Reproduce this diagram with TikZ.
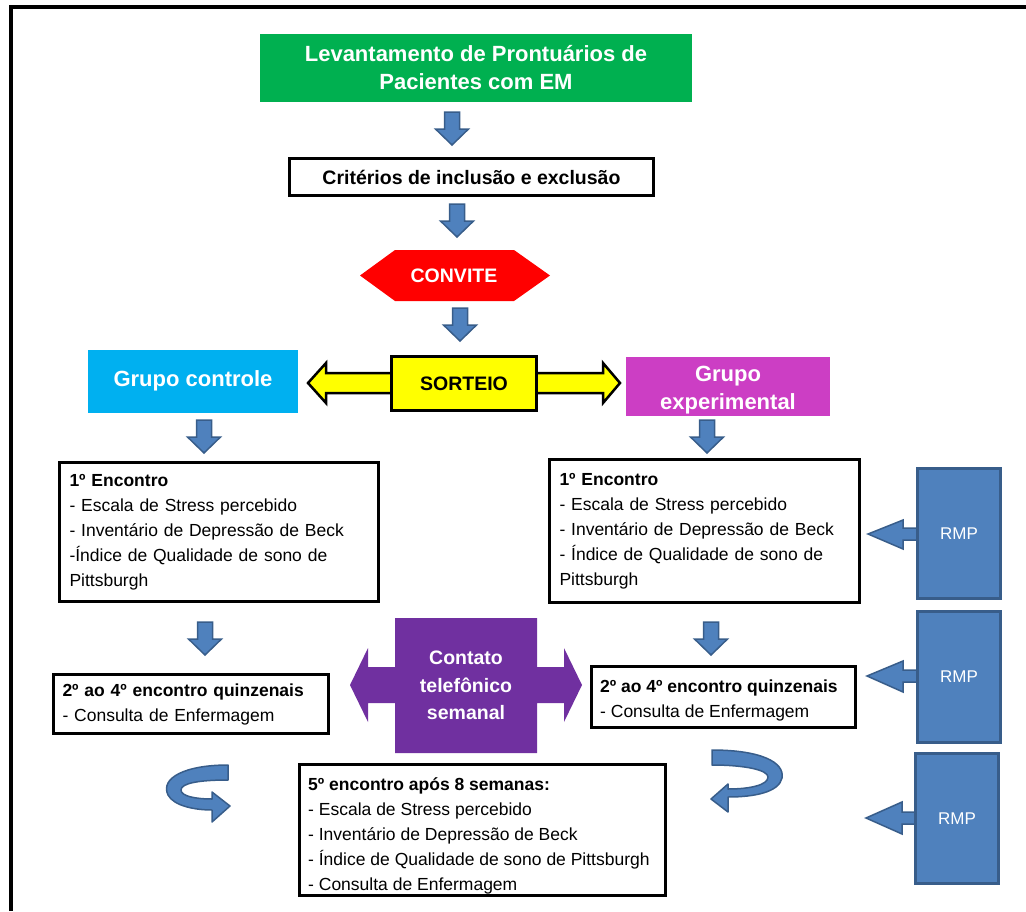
\documentclass[tikz,border=0pt]{standalone}
\usepackage{fontspec}
\setmainfont{Liberation Sans}
\definecolor{ggreen}{HTML}{00B050}
\definecolor{gcyan}{HTML}{00B0F0}
\definecolor{gmag}{RGB}{204,62,196}
\definecolor{gpurp}{HTML}{7030A0}
\definecolor{bfill}{HTML}{4F81BD}
\definecolor{bline}{HTML}{385D8A}
\definecolor{gyel}{HTML}{FFFF00}
\definecolor{gred}{HTML}{FF0000}
\begin{document}
\begin{tikzpicture}[x=1pt,y=-1pt,
  blk/.style={fill=bfill,draw=bline,line width=1.5pt,line join=miter},
  txtbox/.style={draw=black,line width=3pt,fill=white,align=left,inner xsep=10pt,inner ysep=0pt,font=\fontsize{17.5}{25}\selectfont},
  plainbox/.style={draw=black,line width=3pt,fill=white},
  bodytxt/.style={align=left,inner sep=0pt,font=\fontsize{17.5}{25}\selectfont},
  blkdown/.pic={\draw[blk] (-7.5,0) -- (7.5,0) -- (7.5,17) -- (16.5,17) -- (0,33) -- (-16.5,17) -- (-7.5,17) -- cycle;},
  rmpbox/.style={fill=bfill,draw=bline,line width=3pt,minimum width=83pt,text=white,font=\fontsize{17}{20}\selectfont},
]
\useasboundingbox (0,0) rectangle (1026,911);
% frame
\draw[line width=4pt] (11,911) -- (11,7) -- (1026,7);

% title
\node[fill=ggreen,minimum width=432pt,minimum height=68pt,text=white,align=center,
  font=\bfseries\fontsize{22}{28}\selectfont] (lev) at (476,68) {Levantamento de Prontuários de\\Pacientes com EM};
\pic at (452,112) {blkdown};

\node[draw=black,line width=3pt,minimum width=364pt,minimum height=37pt,font=\bfseries\fontsize{19.5}{22}\selectfont] (crit) at (471.5,177) {Critérios de inclusão e exclusão};
\pic at (457,204) {blkdown};

% convite
\fill[gred] (360,275.5) -- (395,250) -- (514,250) -- (550,275.5) -- (514,301) -- (395,301) -- cycle;
\node[text=white,font=\bfseries\fontsize{19.5}{22}\selectfont] (conv) at (454,276) {CONVITE};
\pic at (460,308) {blkdown};

% sorteio
\draw[fill=gyel,draw=black,line width=2.5pt,line join=miter]
  (308,383) -- (326,363) -- (326,373) -- (603,373) -- (603,363) -- (620,383) -- (603,403) -- (603,393) -- (326,393) -- (326,403) -- cycle;
\node[fill=gyel,draw=black,line width=3pt,minimum width=145pt,minimum height=54pt,font=\bfseries\fontsize{19.5}{22}\selectfont] (sort) at (464,383.5) {SORTEIO};

\node[fill=gcyan,minimum width=210pt,minimum height=63pt,text=white,font=\bfseries\fontsize{22}{26}\selectfont] (gc) at (193,381) {Grupo controle};
\node[fill=gmag,minimum width=204pt,minimum height=59pt] (ge) at (728,386) {};
\node[text=white,align=center,font=\bfseries\fontsize{22}{28}\selectfont] (get) at ([yshift=-4pt]ge.center) {Grupo\\experimental};

\pic at (204,420) {blkdown};
\pic at (707,420) {blkdown};

% first encounters
\node[txtbox,text width=299pt,minimum height=139pt] (l1) at (219,532) {\textbf{1º Encontro}\\- Escala de Stress percebido\\- Inventário de Depressão de Beck\\-Índice de Qualidade de sono de\\Pittsburgh};
\node[txtbox,inner xsep=10pt,text width=290pt,minimum height=143pt] (r1) at (704.5,531) {\textbf{1º Encontro}\\- Escala de Stress percebido\\- Inventário de Depressão de Beck\\- Índice de Qualidade de sono de\\Pittsburgh};

\pic at (205,622) {blkdown};
\pic at (711,622) {blkdown};

% purple callout
\fill[gpurp] (395,618) -- (537,618) -- (537,667) -- (564,667) -- (564,648) -- (582,685) -- (564,722) -- (564,703) -- (537,703) -- (537,753) -- (395,753) -- (395,703) -- (368,703) -- (368,722) -- (350,685) -- (368,648) -- (368,667) -- (395,667) -- cycle;
\node[text=white,align=center,font=\bfseries\fontsize{19.5}{27.5}\selectfont] (tel) at (466,685.5) {Contato\\telefônico\\semanal};

% second boxes
\node[txtbox,inner xsep=9pt,text width=257pt,minimum height=59pt] (l2) at (191,704) {\textbf{2º ao 4º encontro quinzenais}\\- Consulta de Enfermagem};
\node[plainbox,minimum width=264pt,minimum height=61pt] (r2) at (723.5,697) {};
\node[bodytxt,anchor=west] (r2t) at ([xshift=10pt,yshift=-3pt]r2.west) {\textbf{2º ao 4º encontro quinzenais}\\- Consulta de Enfermagem};

% final box
\node[plainbox,minimum width=366pt,minimum height=131pt] (fin) at (482.5,830) {};
\node[bodytxt,anchor=west] (fint) at ([xshift=10pt,yshift=-6pt]fin.west) {\textbf{5º encontro após 8 semanas:}\\- Escala de Stress percebido\\- Inventário de Depressão de Beck\\- Índice de Qualidade de sono de Pittsburgh\\- Consulta de Enfermagem};

% curved arrows
\draw[blk,line join=round] (228,765) .. controls (185,765) and (160,778) .. (168,795) .. controls (174,806) and (195,810) .. (212,810) -- (212,822) -- (230,806) -- (212,792) -- (212,799) .. controls (195,799) and (181,796) .. (181,790) .. controls (181,783) and (200,780) .. (228,780) -- cycle;
\draw[blk,line join=round] (712,750) .. controls (760,750) and (785,762) .. (782,778) .. controls (779,792) and (755,797) .. (728,797) -- (728,812) -- (711,799) -- (728,784) -- (728,789) .. controls (750,789) and (768,785) .. (768,777) .. controls (768,770) and (745,765) .. (712,765) -- cycle;

% RMP boxes with arrows
\draw[blk] (918,528) -- (903,528) -- (903,520) -- (868,534) -- (903,549) -- (903,540) -- (918,540) -- cycle;
\node[rmpbox,minimum height=130pt] (rmp1) at (959,533.5) {RMP};
\draw[blk] (918,670) -- (903,670) -- (903,661) -- (867,676) -- (903,692) -- (903,682) -- (918,682) -- cycle;
\node[rmpbox,minimum height=131pt] (rmp2) at (959,677) {RMP};
\draw[blk] (916,812) -- (902,812) -- (902,802) -- (866,818) -- (902,834) -- (902,824) -- (916,824) -- cycle;
\node[rmpbox,minimum height=130pt] (rmp3) at (957,818.5) {RMP};
\end{tikzpicture}
\end{document}
